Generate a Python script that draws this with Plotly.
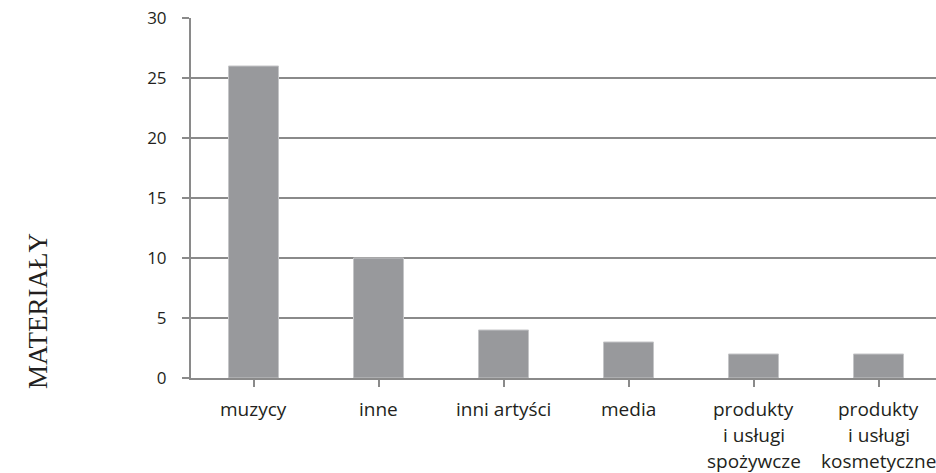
import plotly.graph_objects as go

categories = ["muzycy", "inne", "inni artyści", "media",
              "produkty<br>i usługi<br>spożywcze", "produkty<br>i usługi<br>kosmetyczne"]
values = [26, 10, 4, 3, 2, 2]
y_ticks = [0, 5, 10, 15, 20, 25, 30]
y_title = "MATERIAŁY"

W, H = 936, 473
L, R, T, B = 191, 0, 18, 95
PH = H - T - B
SANS = "Open Sans, Liberation Sans, sans-serif"

fig = go.Figure(go.Bar(
    x=list(range(len(categories))), y=values,
    width=0.4,
    marker=dict(color="#98999c", line=dict(color="#c4c5c7", width=1)),
))

fig.update_layout(
    width=W, height=H,
    margin=dict(l=L, r=R, t=T, b=B),
    plot_bgcolor="white", paper_bgcolor="white",
    showlegend=False,
    font=dict(family=SANS, size=17, color="#231f20"),
)
fig.update_xaxes(
    range=[-0.5, 5.46],
    tickmode="array", tickvals=list(range(len(categories))), ticktext=[""] * len(categories),
    ticks="outside", tickson="boundaries", ticklen=7, tickwidth=2, tickcolor="#8a8a8a",
    showline=True, linecolor="#8a8a8a", linewidth=2,
    showgrid=False, zeroline=False,
)
fig.update_yaxes(
    range=[0, 30], tickmode="array", tickvals=y_ticks,
    ticks="outside", ticklen=7, tickwidth=2, tickcolor="#8a8a8a",
    showline=True, linecolor="#8a8a8a", linewidth=2,
    showgrid=True, gridcolor="#8a8a8a", gridwidth=2,
    zeroline=False, ticklabelstandoff=12,
    tickfont=dict(size=17),
)

# category labels, one annotation per line for precise line spacing
LINE = 26
FIRST_CENTER = 409
for i, cat in enumerate(categories):
    for j, line in enumerate(cat.split("<br>")):
        py = FIRST_CENTER + j * LINE
        fig.add_annotation(
            text=line, showarrow=False,
            xref="x", yref="paper", x=i, y=0, yshift=-(py - (H - B)),
            xanchor="center", yanchor="middle",
            font=dict(family=SANS, size=19, color="#231f20"),
        )

fig.add_annotation(
    text=y_title, textangle=-90, showarrow=False,
    xref="paper", yref="paper", x=-(L - 38) / (W - L - R), y=(H - B - 311) / PH,
    xanchor="center", yanchor="middle",
    font=dict(family="Liberation Serif, Times New Roman, serif", size=27, color="#231f20"),
)

fig.write_html("out.html")
